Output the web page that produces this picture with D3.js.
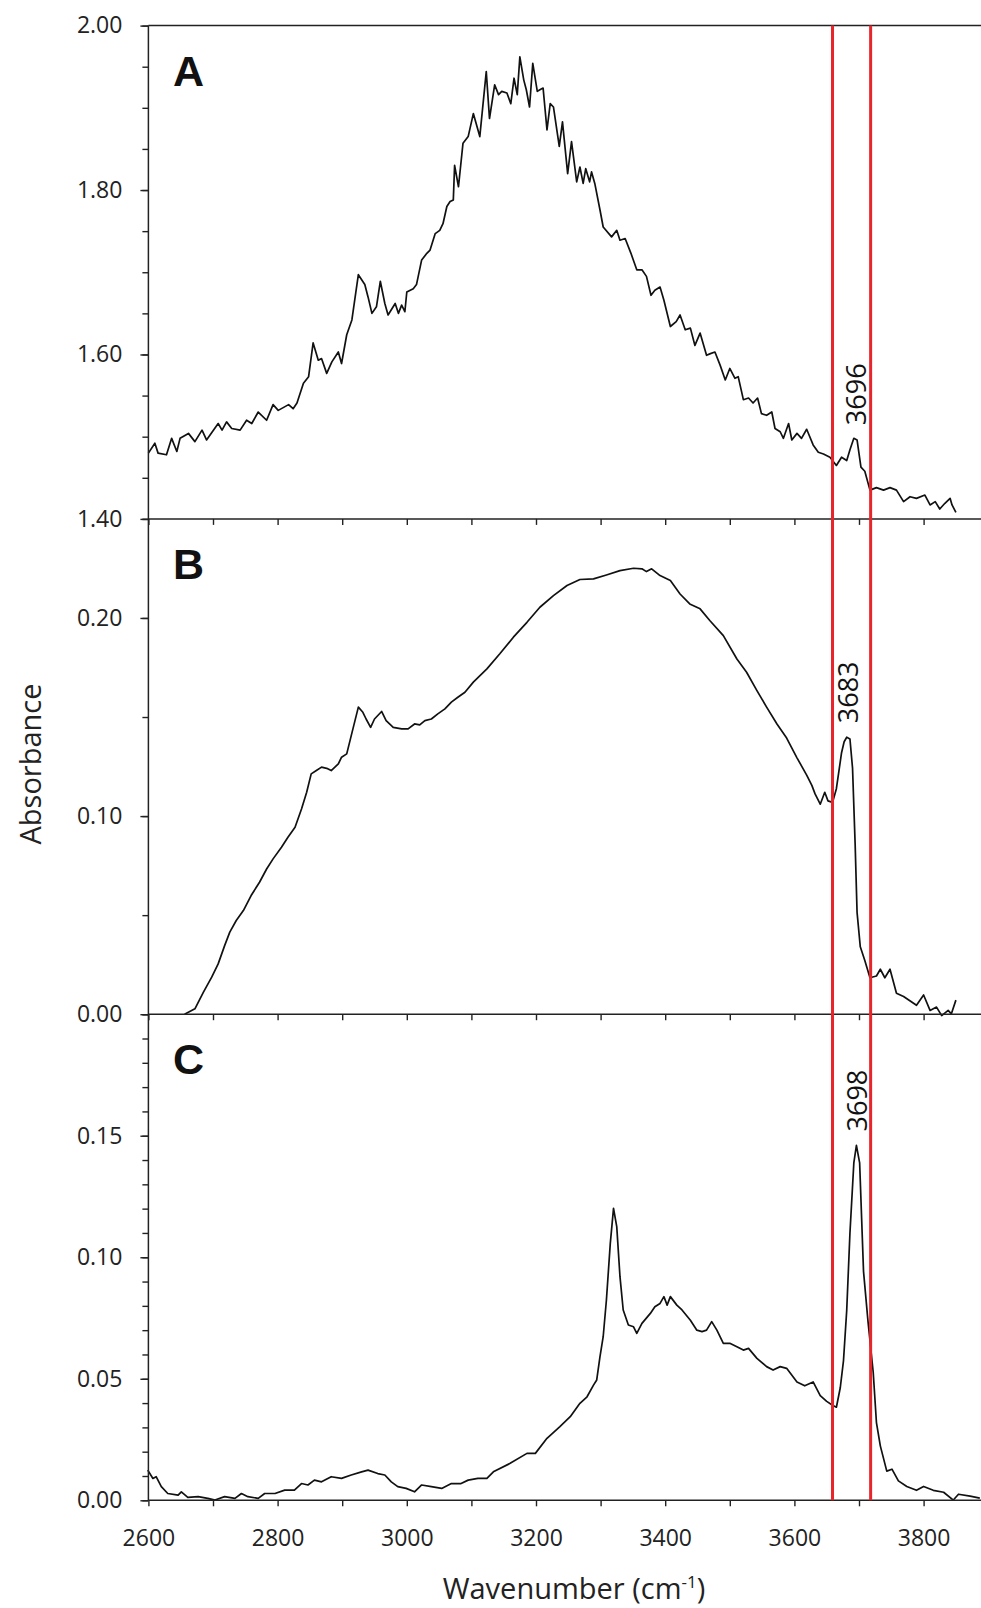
<!DOCTYPE html>
<html>
<head>
<meta charset="utf-8">
<script src="https://cdn.jsdelivr.net/npm/d3@7"></script>
<style>
  body { margin: 0; background: #fff; }
  svg { display: block; }
  .tick text { font-family: "Open Sans", sans-serif; fill: #222; }
</style>
</head>
<body>
<svg id="chart" width="981" height="1608"></svg>
<script>
// x axis (wavenumber, cm-1)
var xTicks = [2600, 2700, 2800, 2900, 3000, 3100, 3200, 3300, 3400, 3500, 3600, 3700, 3800, 3900];
var xLabels = [2600, 2800, 3000, 3200, 3400, 3600, 3800];
var redLines = [3659, 3718];

// panel A
var yTicksA = [1.40, 1.60, 1.80, 2.00];
var spectrumA = [
  [2600,1.480],[2610,1.492],[2615,1.480],[2628,1.478],[2636,1.498],[2644,1.482],[2649,1.498],[2662,1.504],
  [2672,1.494],[2683,1.508],[2690,1.496],[2708,1.516],[2714,1.508],[2721,1.518],[2729,1.510],[2742,1.508],
  [2752,1.520],[2760,1.516],[2770,1.530],[2783,1.520],[2793,1.539],[2801,1.532],[2817,1.539],[2824,1.534],
  [2830,1.541],[2840,1.565],[2848,1.573],[2855,1.614],[2863,1.593],[2868,1.595],[2876,1.577],[2884,1.591],
  [2894,1.603],[2899,1.589],[2907,1.624],[2915,1.642],[2925,1.697],[2935,1.685],[2940,1.670],[2946,1.650],
  [2953,1.658],[2959,1.689],[2966,1.662],[2971,1.648],[2982,1.662],[2987,1.650],[2992,1.660],[2997,1.652],
  [3000,1.676],[3010,1.680],[3015,1.685],[3023,1.715],[3031,1.723],[3036,1.727],[3044,1.747],[3051,1.751],
  [3056,1.759],[3062,1.780],[3067,1.786],[3072,1.788],[3074,1.830],[3080,1.804],[3087,1.857],[3095,1.865],
  [3103,1.893],[3113,1.865],[3123,1.944],[3128,1.887],[3136,1.928],[3142,1.916],[3147,1.920],[3155,1.918],
  [3161,1.905],[3166,1.936],[3171,1.916],[3175,1.962],[3181,1.934],[3185,1.922],[3190,1.901],[3195,1.954],
  [3202,1.920],[3206,1.922],[3211,1.924],[3217,1.873],[3222,1.905],[3227,1.901],[3236,1.853],[3241,1.883],
  [3249,1.820],[3255,1.859],[3263,1.810],[3268,1.828],[3273,1.808],[3277,1.826],[3283,1.810],[3286,1.822],
  [3291,1.808],[3299,1.776],[3304,1.755],[3317,1.743],[3325,1.751],[3330,1.739],[3338,1.741],[3347,1.723],
  [3356,1.703],[3364,1.703],[3371,1.695],[3378,1.672],[3384,1.678],[3392,1.682],[3398,1.666],[3408,1.634],
  [3417,1.640],[3423,1.648],[3431,1.630],[3439,1.632],[3446,1.611],[3454,1.626],[3464,1.599],[3470,1.601],
  [3477,1.603],[3485,1.587],[3493,1.569],[3500,1.583],[3508,1.571],[3513,1.573],[3521,1.545],[3529,1.547],
  [3536,1.541],[3543,1.547],[3549,1.528],[3557,1.526],[3565,1.530],[3570,1.510],[3578,1.506],[3583,1.498],
  [3591,1.516],[3596,1.496],[3604,1.504],[3611,1.498],[3619,1.509],[3629,1.490],[3637,1.481],[3645,1.479],
  [3655,1.475],[3665,1.465],[3673,1.475],[3681,1.471],[3686,1.484],[3692,1.498],[3697,1.496],[3703,1.463],
  [3709,1.458],[3717,1.435],[3727,1.438],[3738,1.435],[3748,1.438],[3758,1.435],[3769,1.421],[3779,1.427],
  [3789,1.425],[3802,1.429],[3810,1.417],[3818,1.421],[3825,1.412],[3833,1.419],[3841,1.425],[3844,1.417],
  [3850,1.408]
];

// panel B
var yTicksB = [0.00, 0.10, 0.20];
var spectrumB = [
  [2656,0.0000],[2672,0.0027],[2685,0.0110],[2698,0.0187],[2708,0.0254],[2718,0.0346],[2726,0.0414],
  [2736,0.0473],[2747,0.0523],[2759,0.0599],[2772,0.0666],[2783,0.0733],[2793,0.0784],[2806,0.0843],
  [2816,0.0893],[2827,0.0944],[2837,0.1036],[2845,0.1120],[2852,0.1213],[2860,0.1230],[2868,0.1247],
  [2876,0.1241],[2883,0.1230],[2894,0.1263],[2899,0.1297],[2907,0.1314],[2914,0.1406],[2925,0.1550],
  [2932,0.1524],[2937,0.1490],[2944,0.1448],[2950,0.1490],[2961,0.1528],[2968,0.1482],[2979,0.1448],
  [2992,0.1440],[3002,0.1440],[3012,0.1465],[3020,0.1460],[3028,0.1482],[3038,0.1490],[3048,0.1516],
  [3059,0.1541],[3069,0.1575],[3079,0.1600],[3090,0.1625],[3103,0.1676],[3124,0.1743],[3144,0.1819],
  [3165,0.1903],[3186,0.1978],[3206,0.2054],[3227,0.2113],[3248,0.2164],[3268,0.2194],[3289,0.2197],
  [3309,0.2217],[3330,0.2239],[3351,0.2251],[3364,0.2248],[3371,0.2234],[3379,0.2248],[3392,0.2214],
  [3408,0.2189],[3423,0.2121],[3438,0.2071],[3454,0.2046],[3469,0.1987],[3490,0.1911],[3511,0.1793],
  [3526,0.1726],[3542,0.1633],[3557,0.1550],[3573,0.1465],[3588,0.1394],[3604,0.1294],[3619,0.1207],
  [3627,0.1155],[3632,0.1112],[3640,0.1060],[3647,0.1120],[3652,0.1077],[3659,0.1069],[3665,0.1138],
  [3673,0.1320],[3677,0.1375],[3681,0.1398],[3686,0.1389],[3690,0.1242],[3694,0.0861],[3697,0.0514],
  [3702,0.0340],[3709,0.0271],[3717,0.0184],[3727,0.0193],[3733,0.0227],[3740,0.0184],[3748,0.0227],
  [3758,0.0106],[3769,0.0089],[3789,0.0045],[3800,0.0097],[3810,0.0019],[3820,0.0036],[3828,-0.0007],
  [3838,0.0019],[3843,0.0002],[3850,0.0071]
];

// panel C
var yTicksC = [0.00, 0.05, 0.10, 0.15];
var spectrumC = [
  [2599,0.0124],[2607,0.0090],[2612,0.0097],[2620,0.0056],[2630,0.0028],[2646,0.0021],[2651,0.0035],
  [2661,0.0012],[2677,0.0015],[2692,0.0008],[2703,0.0001],[2718,0.0015],[2734,0.0008],[2744,0.0028],
  [2754,0.0015],[2770,0.0008],[2780,0.0028],[2796,0.0028],[2811,0.0042],[2826,0.0042],[2837,0.0069],
  [2847,0.0063],[2857,0.0083],[2868,0.0076],[2883,0.0097],[2899,0.0090],[2914,0.0104],[2930,0.0117],
  [2940,0.0124],[2955,0.0110],[2966,0.0104],[2976,0.0076],[2986,0.0056],[2999,0.0049],[3012,0.0035],
  [3023,0.0063],[3038,0.0056],[3054,0.0049],[3069,0.0069],[3084,0.0069],[3095,0.0083],[3110,0.0090],
  [3124,0.0090],[3134,0.0117],[3160,0.0152],[3186,0.0193],[3199,0.0193],[3217,0.0255],[3237,0.0303],
  [3253,0.0344],[3268,0.0399],[3279,0.0426],[3289,0.0474],[3294,0.0495],[3299,0.0590],[3304,0.0673],
  [3309,0.0824],[3315,0.1057],[3320,0.1201],[3325,0.1126],[3330,0.0920],[3335,0.0783],[3343,0.0721],
  [3351,0.0714],[3356,0.0687],[3364,0.0728],[3377,0.0769],[3384,0.0796],[3392,0.0810],[3398,0.0838],
  [3403,0.0803],[3408,0.0838],[3418,0.0803],[3426,0.0783],[3439,0.0741],[3449,0.0700],[3457,0.0694],
  [3464,0.0700],[3472,0.0735],[3480,0.0700],[3490,0.0646],[3500,0.0646],[3511,0.0632],[3521,0.0618],
  [3529,0.0625],[3542,0.0584],[3557,0.0550],[3567,0.0536],[3578,0.0550],[3588,0.0543],[3604,0.0487],
  [3616,0.0471],[3629,0.0487],[3640,0.0431],[3650,0.0407],[3659,0.0391],[3665,0.0383],[3671,0.0463],
  [3676,0.0575],[3681,0.0782],[3686,0.1101],[3692,0.1388],[3696,0.1460],[3701,0.1388],[3707,0.0942],
  [3714,0.0734],[3722,0.0527],[3727,0.0320],[3733,0.0224],[3743,0.0120],[3751,0.0128],[3761,0.0080],
  [3774,0.0057],[3789,0.0041],[3800,0.0057],[3815,0.0041],[3831,0.0033],[3846,0.0001],[3854,0.0025],
  [3872,0.0017],[3887,0.0009]
];

// peak annotations
var peakNames = ["3696", "3683", "3698"];
var peakWavenumbers = [3696, 3683, 3698];
var peakHeights = [1.497, 0.1398, 0.146];

var left = 148.4, right = 988.2;
var svg = d3.select("#chart");
var x = d3.scaleLinear().domain([2600, 3900]).range([left, right]);
var fmt = d3.format(".2f");

var panels = [
  {name: "A", data: spectrumA, domain: [1.40, 2.00], top: 25.6, bottom: 518.9, ticks: yTicksA, minorStep: 0.05},
  {name: "B", data: spectrumB, domain: [0.00, 0.25], top: 518.9, bottom: 1014.2, ticks: yTicksB, minorStep: 0.05},
  {name: "C", data: spectrumC, domain: [0.00, 0.20], top: 1014.2, bottom: 1500.3, ticks: yTicksC, minorStep: 0.01}
];

panels.forEach(function(p, i) {
  p.y = d3.scaleLinear().domain(p.domain).range([p.bottom, p.top]);
  var g = svg.append("g");

  // minor y ticks
  var minor = d3.range(p.domain[0], p.domain[1] + 1e-9, p.minorStep);
  g.append("g")
    .attr("transform", "translate(" + left + ",0)")
    .call(d3.axisLeft(p.y).tickValues(minor).tickSize(6).tickFormat(""))
    .call(function(a) { a.select(".domain").remove(); a.selectAll("line").attr("stroke", "#222").attr("stroke-width", 1.4); });

  // major y ticks with labels
  g.append("g")
    .attr("transform", "translate(" + left + ",0)")
    .call(d3.axisLeft(p.y).tickValues(p.ticks).tickSize(8).tickPadding(18).tickFormat(fmt))
    .call(function(a) {
      a.select(".domain").remove();
      a.selectAll("line").attr("stroke", "#222").attr("stroke-width", 1.4);
      a.selectAll("text").style("font-size", "23px");
    });

  // x ticks at panel bottom
  g.append("g")
    .attr("transform", "translate(0," + p.bottom + ")")
    .call(d3.axisBottom(x).tickValues(xTicks).tickSize(6).tickPadding(23)
      .tickFormat(function(d) { return (i === 2 && xLabels.indexOf(d) >= 0) ? d : ""; }))
    .call(function(a) {
      a.select(".domain").remove();
      a.selectAll("line").attr("stroke", "#222").attr("stroke-width", 1.4);
      a.selectAll("text").style("font-size", "23px");
    });

  // spectrum
  g.append("path")
    .datum(p.data)
    .attr("fill", "none")
    .attr("stroke", "#111")
    .attr("stroke-width", 1.7)
    .attr("stroke-linejoin", "round")
    .attr("d", d3.line().x(function(d) { return x(d[0]); }).y(function(d) { return p.y(d[1]); }));

  // panel letter
  g.append("text")
    .attr("x", 173)
    .attr("y", p.top + 60)
    .style("font-family", "'Liberation Sans', Arial, sans-serif")
    .style("font-weight", "bold")
    .style("font-size", "43px")
    .attr("fill", "#111")
    .text(p.name);

  // peak label
  var px = x(peakWavenumbers[i]), py = p.y(peakHeights[i]) - 14;
  g.append("text")
    .attr("transform", "translate(" + px + "," + py + ") rotate(-90)")
    .attr("dy", "0.36em")
    .style("font-family", "'Open Sans', sans-serif")
    .style("font-size", "27px")
    .attr("fill", "#111")
    .text(peakNames[i]);
});

// frame lines
var frame = svg.append("g").attr("stroke", "#222").attr("stroke-width", 1.5);
frame.append("line").attr("x1", left).attr("x2", left).attr("y1", panels[0].top).attr("y2", panels[2].bottom);
[panels[0].top, panels[0].bottom, panels[1].bottom, panels[2].bottom].forEach(function(yy) {
  frame.append("line").attr("x1", left).attr("x2", right).attr("y1", yy).attr("y2", yy);
});

// red reference lines
svg.selectAll(".redline")
  .data(redLines)
  .enter().append("line")
  .attr("class", "redline")
  .attr("x1", function(d) { return x(d); })
  .attr("x2", function(d) { return x(d); })
  .attr("y1", panels[0].top)
  .attr("y2", panels[2].bottom)
  .attr("stroke", "#e8252b")
  .attr("stroke-width", 3);

// axis titles
svg.append("text")
  .attr("transform", "translate(41,764) rotate(-90)")
  .attr("text-anchor", "middle")
  .style("font-family", "'Open Sans', sans-serif")
  .style("font-size", "29px")
  .attr("fill", "#222")
  .text("Absorbance");

var xt = svg.append("text")
  .attr("x", 574)
  .attr("y", 1599)
  .attr("text-anchor", "middle")
  .style("font-family", "'Open Sans', sans-serif")
  .style("font-size", "29px")
  .attr("fill", "#222");
xt.append("tspan").text("Wavenumber (cm");
xt.append("tspan").attr("dy", -11).style("font-size", "17px").text("-1");
xt.append("tspan").attr("dy", 11).text(")");
</script>
</body>
</html>
